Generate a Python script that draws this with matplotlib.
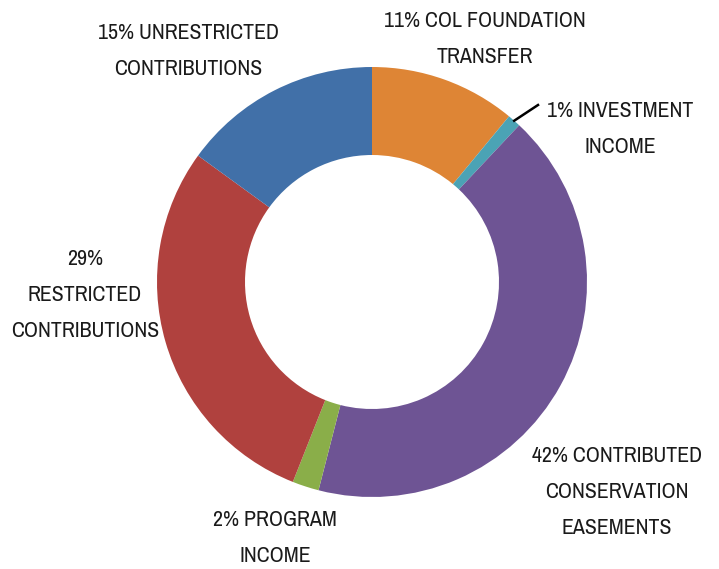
import numpy as np
import matplotlib.pyplot as plt
import matplotlib.font_manager as fm

labels = ['11% COL FOUNDATION\nTRANSFER',
          '1% INVESTMENT\nINCOME',
          '42% CONTRIBUTED\nCONSERVATION\nEASEMENTS',
          '2% PROGRAM\nINCOME',
          '29%\nRESTRICTED\nCONTRIBUTIONS',
          '15% UNRESTRICTED\nCONTRIBUTIONS']
values = [11, 1, 42, 2, 29, 15]
colors = ['#DE8535', '#4BA3B5', '#6E5494', '#8AAE49', '#B0413E', '#4170A8']

# look for a narrow sans font, the reference uses a tall condensed face
narrow = {'ultra-condensed': 0, 'extra-condensed': 1, 'condensed': 2, 'semi-condensed': 3}
cands = []
for f in fm.fontManager.ttflist:
    st = str(f.stretch)
    if f.style != 'normal' or f.weight not in (400, 'normal', 'regular', 'book'):
        continue
    if 'Mono' in f.name or 'Serif' in f.name:
        continue
    if st in narrow:
        cands.append((narrow[st], f.name, f.fname))
    elif 'Narrow' in f.name or 'Condensed' in f.name:
        cands.append((2, f.name, f.fname))
cands.sort()
if cands:
    fp = fm.FontProperties(fname=cands[0][2])
else:
    fp = fm.FontProperties(family='DejaVu Sans')

fig = plt.figure(figsize=(7.19, 5.69), dpi=100)
ax = fig.add_axes([0, 0, 1, 1])

cx, cy, R = 372, 287, 215
ax.pie(values, colors=colors, startangle=90, counterclock=False,
       center=(cx, cy), radius=R, frame=True,
       wedgeprops=dict(width=R - 127, linewidth=0))
ax.set_xlim(0, 719)
ax.set_ylim(0, 569)
ax.set_aspect('equal')
ax.axis('off')

# size the font so the widest line is about as wide as in the reference
probe = ax.text(0, 0, '15% UNRESTRICTED', fontproperties=fp, fontsize=20)
fig.canvas.draw()
w = probe.get_window_extent().width
probe.remove()
fs = 20 * 182 / w
# reference lines are ~37 px apart
ls = 1.19 * 37 / (fs * 100 / 72)

# label positions (pixel coords from top-left of the image)
pos = [(485, 39), (620, 129), (617, 492), (275, 538), (85, 295), (188, 51)]
for lab, (x, y) in zip(labels, pos):
    ax.text(x, 569 - y, lab, ha='center', va='center', fontproperties=fp,
            fontsize=fs, color='#1a1a1a', linespacing=ls)

# leader line for the small investment slice
mid = (values[0] + values[1] / 2) / sum(values) * 2 * np.pi
ax.plot([cx + R * np.sin(mid), 538], [cy + R * np.cos(mid), 569 - 105],
        color='black', lw=1.8)

fig.savefig('out.png', dpi=100)
